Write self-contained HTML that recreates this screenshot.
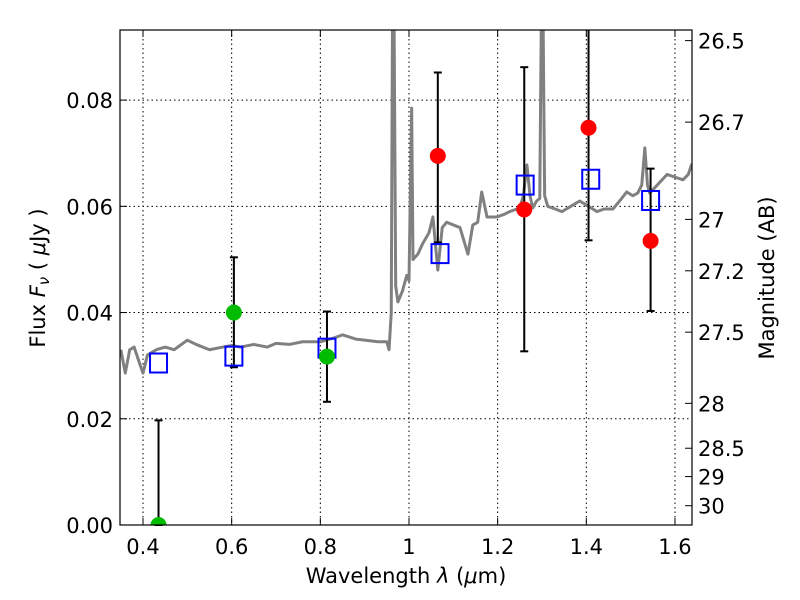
<!DOCTYPE html>
<html><head><meta charset="utf-8"><style>
body{margin:0;background:#fff;}
svg{display:block;font-family:"DejaVu Sans","Liberation Sans",sans-serif;}
</style></head><body>
<svg id="chart" width="800" height="600">
<rect width="800" height="600" fill="#fff"/>
<g id="grid"></g>
<g id="spec"></g>
<g id="marks"></g>
<rect x="120" y="30" width="572" height="495" fill="none" stroke="#000" stroke-width="1.2"/>
<g id="axes"></g>
<text x="406" y="583" font-size="21" text-anchor="middle">Wavelength  <tspan font-style="italic">λ</tspan> (<tspan font-style="italic">μ</tspan>m)</text>
<text transform="translate(45,278) rotate(-90)" font-size="21" text-anchor="middle">Flux  <tspan font-style="italic">F<tspan font-size="15" dy="4">ν</tspan></tspan><tspan dy="-4">  (  </tspan><tspan font-style="italic">μ</tspan>Jy )</text>
<text transform="translate(774,278) rotate(-90)" font-size="21" text-anchor="middle">Magnitude (AB)</text>
</svg>
<script>
const specLam=[0.35,0.36,0.37,0.38,0.39,0.40,0.41,0.43,0.45,0.47,0.50,0.52,0.55,0.58,0.60,0.62,0.65,0.68,0.70,0.73,0.76,0.80,0.83,0.85,0.88,0.90,0.93,0.95,0.955,0.96,0.963,0.966,0.97,0.975,0.985,0.995,1.0,1.006,1.009,1.02,1.031,1.045,1.054,1.065,1.075,1.085,1.10,1.115,1.133,1.144,1.155,1.164,1.176,1.19,1.198,1.215,1.227,1.25,1.258,1.266,1.273,1.279,1.288,1.295,1.299,1.302,1.306,1.313,1.33,1.345,1.365,1.385,1.405,1.424,1.44,1.46,1.475,1.491,1.505,1.516,1.525,1.532,1.538,1.543,1.56,1.582,1.60,1.618,1.63,1.638];
const specFlux=[0.033,0.0286,0.033,0.0335,0.031,0.0286,0.032,0.033,0.0335,0.033,0.0348,0.034,0.033,0.0335,0.0338,0.0335,0.034,0.0335,0.0342,0.034,0.0345,0.0345,0.0352,0.0358,0.035,0.0348,0.0345,0.0345,0.033,0.040,0.10,0.10,0.045,0.042,0.044,0.047,0.046,0.0785,0.050,0.051,0.053,0.055,0.058,0.048,0.056,0.057,0.0565,0.056,0.051,0.0565,0.057,0.0627,0.058,0.058,0.058,0.0585,0.059,0.0597,0.062,0.0678,0.062,0.0597,0.061,0.0615,0.10,0.10,0.062,0.060,0.0595,0.059,0.060,0.061,0.060,0.059,0.0595,0.0595,0.061,0.0627,0.062,0.0625,0.064,0.071,0.064,0.0625,0.064,0.066,0.0655,0.065,0.066,0.068];
const greenLam=[0.435,0.605,0.815];
const greenFlux=[0.0,0.040,0.0317];
const greenLo=[0.0,0.0297,0.0232];
const greenHi=[0.0197,0.0504,0.0402];
const redLam=[1.065,1.26,1.405,1.545];
const redFlux=[0.0695,0.0594,0.0748,0.0535];
const redLo=[0.0532,0.0327,0.0536,0.0403];
const redHi=[0.0852,0.0862,0.1,0.0671];
const modelLam=[0.435,0.605,0.815,1.07,1.262,1.41,1.545];
const modelFlux=[0.0305,0.0318,0.0333,0.0511,0.064,0.0651,0.0611];
const xTicks=[0.4,0.6,0.8,1.0,1.2,1.4,1.6];
const xTickLabels=["0.4","0.6","0.8","1","1.2","1.4","1.6"];
const yTicks=[0,0.02,0.04,0.06,0.08];
const yTickLabels=["0.00","0.02","0.04","0.06","0.08"];
const magTicks=[26.5,26.7,27,27.2,27.5,28,28.5,29,30];
const magTickLabels=["26.5","26.7","27","27.2","27.5","28","28.5","29","30"];

const X0=120,X1=692,Y0=525,Y1=30,LMIN=0.3481,LMAX=1.6384,FMIN=0,FMAX=0.0932;
const sx=l=>X0+(l-LMIN)/(LMAX-LMIN)*(X1-X0);
const sy=f=>Y0-(f-FMIN)/(FMAX-FMIN)*(Y0-Y1);
const NS="http://www.w3.org/2000/svg";
function mk(tag,attrs,parent){const e=document.createElementNS(NS,tag);for(const k in attrs)e.setAttribute(k,attrs[k]);parent.appendChild(e);return e;}
const grid=document.getElementById('grid'),axes=document.getElementById('axes'),spec=document.getElementById('spec'),marks=document.getElementById('marks');

xTicks.forEach((t,i)=>{const x=sx(t);
 let g=mk('line',{x1:x,x2:x,y1:Y1,y2:Y0,stroke:'#000','stroke-dasharray':'1.5,3','stroke-width':1},grid);
 
 mk('line',{x1:x,x2:x,y1:Y0,y2:Y0-7,stroke:'#000'},axes);mk('line',{x1:x,x2:x,y1:Y1,y2:Y1+7,stroke:'#000'},axes);
 let tx=mk('text',{x:x,y:554,'font-size':21,'text-anchor':'middle'},axes);tx.textContent=xTickLabels[i];
 });
yTicks.forEach((t,i)=>{const y=sy(t);
 let g=mk('line',{x1:X0,x2:X1,y1:y,y2:y,stroke:'#000','stroke-dasharray':'1.5,3','stroke-width':1},grid);
 
 mk('line',{x1:X0,x2:X0+7,y1:y,y2:y,stroke:'#000'},axes);
 let tx=mk('text',{x:113,y:y+8,'font-size':21,'text-anchor':'end'},axes);tx.textContent=yTickLabels[i];
 });
magTicks.forEach((m,i)=>{const y=sy(Math.pow(10,(23.9-m)/2.5));
 mk('line',{x1:X1,x2:X1-7,y1:y,y2:y,stroke:'#000'},axes);
 let tx=mk('text',{x:698,y:y+8,'font-size':21},axes);tx.textContent=magTickLabels[i];
 });

const cp=mk('clipPath',{id:'clip'},document.getElementById('chart'));
mk('rect',{x:X0,y:Y1,width:X1-X0,height:Y0-Y1},cp);
let pl=mk('polyline',{points:specLam.map((l,i)=>sx(l)+','+sy(specFlux[i])).join(' '),fill:'none',stroke:'#808080','stroke-width':3,'stroke-linejoin':'round','clip-path':'url(#clip)'},spec);


function errbar(l,lo,hi){const x=sx(l),a=sy(lo),b=Math.max(sy(hi),Y1);
 let e=mk('line',{x1:x,x2:x,y1:a,y2:b,stroke:'#000','stroke-width':2},marks);
 
 mk('line',{x1:x-4,x2:x+4,y1:a,y2:a,stroke:'#000','stroke-width':2},marks);
 if(sy(hi)>Y1)mk('line',{x1:x-4,x2:x+4,y1:b,y2:b,stroke:'#000','stroke-width':2},marks);}
greenLam.forEach((l,i)=>errbar(l,greenLo[i],greenHi[i]));
redLam.forEach((l,i)=>errbar(l,redLo[i],redHi[i]));
modelLam.forEach((l,i)=>{let r=mk('rect',{x:sx(l)-8.5,y:sy(modelFlux[i])-9.5,width:17,height:19,fill:'none',stroke:'#0000ff','stroke-width':2},marks);
 });
greenLam.forEach((l,i)=>{let c=mk('circle',{cx:sx(l),cy:sy(greenFlux[i]),r:8,fill:'#00bb00','clip-path':'url(#clip)'},marks);
 });
redLam.forEach((l,i)=>{let c=mk('circle',{cx:sx(l),cy:sy(redFlux[i]),r:8,fill:'#ff0000'},marks);
 });
</script>
</body></html>
